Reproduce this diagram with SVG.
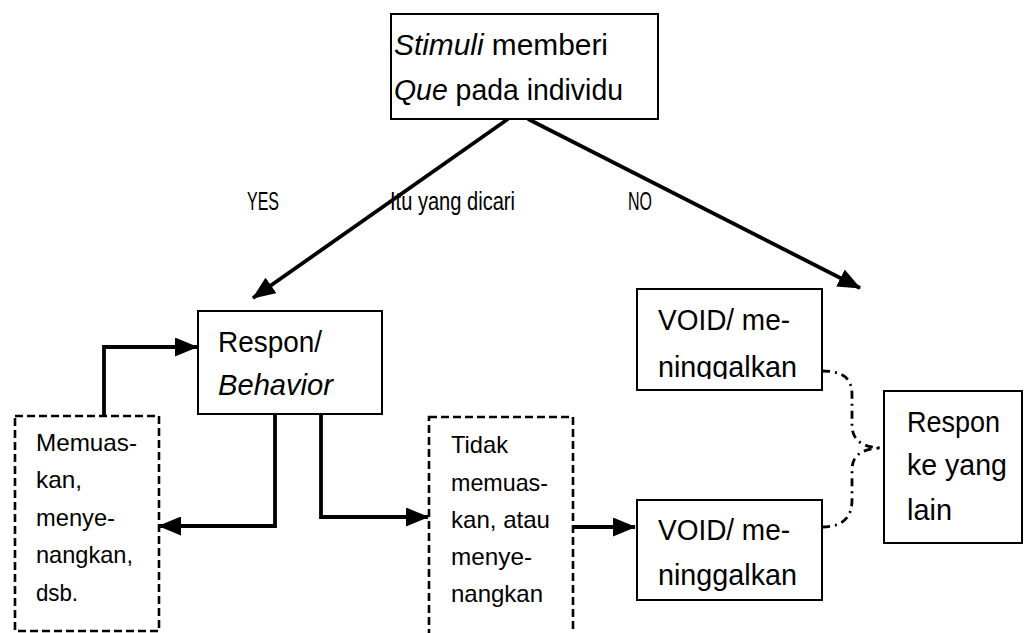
<svg xmlns="http://www.w3.org/2000/svg" width="1024" height="633" viewBox="0 0 1024 633">
<style>
text{font-family:"Liberation Sans",Arial,sans-serif;fill:#000}
.big{font-size:29px}
.sm{font-size:24px}
.lab{font-size:25px}
.box{fill:#fff;stroke:#000;stroke-width:2}
.dbox{fill:#fff;stroke:#000;stroke-width:2.6;stroke-dasharray:8 4}
.ar{fill:none;stroke:#000;stroke-width:3.8}
.dd{fill:none;stroke:#000;stroke-width:2.8;stroke-dasharray:8 5 2 5}
</style>
<defs>
<marker id="ah" viewBox="0 0 23 19" refX="22" refY="9.5" markerWidth="23" markerHeight="19" orient="auto" markerUnits="userSpaceOnUse">
<path d="M0,0 L23,9.5 L0,19 z" fill="#000"/>
</marker>
<clipPath id="clipv"><rect x="637" y="289" width="185" height="90"/></clipPath>
</defs>
<rect width="1024" height="633" fill="#fff"/>

<g id="connectors">
<path class="ar" d="M508,119 L253,298" marker-end="url(#ah)"/>
<path class="ar" d="M528,119 L860,288" marker-end="url(#ah)"/>
<path class="ar" d="M104,416 L104,347 L197,347" marker-end="url(#ah)"/>
<path class="ar" d="M275,414 L275,526 L159,526" marker-end="url(#ah)"/>
<path class="ar" d="M321,414 L321,517 L428,517" marker-end="url(#ah)"/>
<path class="ar" d="M573,527 L635,527" marker-end="url(#ah)"/>
<path class="dd" d="M822,371 C845,371 852,380 852,395 L852,425 C852,440 862,448 884,448"/>
<path class="dd" d="M822,527 C845,527 852,515 852,500 L852,470 C852,455 862,448 884,448"/>
</g>

<g id="labels">
<text class="lab" x="247" y="210" textLength="32" lengthAdjust="spacingAndGlyphs">YES</text>
<text class="lab" x="390" y="210" textLength="125" lengthAdjust="spacingAndGlyphs">Itu yang dicari</text>
<text class="lab" x="628" y="210" textLength="24" lengthAdjust="spacingAndGlyphs">NO</text>
</g>

<g id="stimuli">
<rect class="box" x="391" y="14" width="267" height="105"/>
<text class="big" x="394" y="55" textLength="214" lengthAdjust="spacingAndGlyphs"><tspan font-style="italic">Stimuli</tspan> memberi</text>
<text class="big" x="394" y="100" textLength="229" lengthAdjust="spacingAndGlyphs"><tspan font-style="italic">Que</tspan> pada individu</text>
</g>

<g id="respon">
<rect class="box" x="198" y="311" width="184" height="103"/>
<text class="big" x="218" y="352" textLength="104" lengthAdjust="spacingAndGlyphs">Respon/</text>
<text class="big" x="218" y="395" font-style="italic" textLength="115" lengthAdjust="spacingAndGlyphs">Behavior</text>
</g>

<g id="memuaskan">
<rect class="dbox" x="15" y="416" width="144" height="215"/>
<text class="sm" x="36" y="451" textLength="101" lengthAdjust="spacingAndGlyphs">Memuas-</text>
<text class="sm" x="36" y="488" textLength="46" lengthAdjust="spacingAndGlyphs">kan,</text>
<text class="sm" x="36" y="526" textLength="79" lengthAdjust="spacingAndGlyphs">menye-</text>
<text class="sm" x="36" y="563" textLength="97" lengthAdjust="spacingAndGlyphs">nangkan,</text>
<text class="sm" x="36" y="601" textLength="42" lengthAdjust="spacingAndGlyphs">dsb.</text>
</g>

<g id="tidak">
<rect class="dbox" x="429" y="417" width="144" height="230"/>
<text class="sm" x="451" y="453" textLength="57" lengthAdjust="spacingAndGlyphs">Tidak</text>
<text class="sm" x="451" y="491" textLength="97" lengthAdjust="spacingAndGlyphs">memuas-</text>
<text class="sm" x="451" y="528" textLength="99" lengthAdjust="spacingAndGlyphs">kan, atau</text>
<text class="sm" x="451" y="565" textLength="81" lengthAdjust="spacingAndGlyphs">menye-</text>
<text class="sm" x="451" y="602" textLength="92" lengthAdjust="spacingAndGlyphs">nangkan</text>
</g>

<g id="void1">
<rect class="box" x="637" y="289" width="185" height="101"/>
<text class="big" x="658" y="330" textLength="132" lengthAdjust="spacingAndGlyphs">VOID/ me-</text>
<text class="big" x="658" y="377" textLength="139" lengthAdjust="spacingAndGlyphs" clip-path="url(#clipv)">ninggalkan</text>
</g>

<g id="void2">
<rect class="box" x="637" y="500" width="185" height="100"/>
<text class="big" x="658" y="540" textLength="132" lengthAdjust="spacingAndGlyphs">VOID/ me-</text>
<text class="big" x="658" y="585" textLength="139" lengthAdjust="spacingAndGlyphs">ninggalkan</text>
</g>

<g id="respon-lain">
<rect class="box" x="884" y="391" width="138" height="152"/>
<text class="big" x="907" y="432" textLength="93" lengthAdjust="spacingAndGlyphs">Respon</text>
<text class="big" x="907" y="475" textLength="100" lengthAdjust="spacingAndGlyphs">ke yang</text>
<text class="big" x="907" y="520" textLength="45" lengthAdjust="spacingAndGlyphs">lain</text>
</g>
</svg>
